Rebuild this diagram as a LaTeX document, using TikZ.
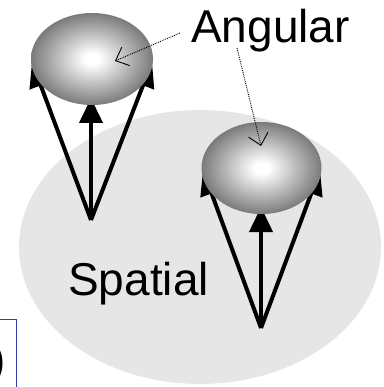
\documentclass[tikz,border=0pt]{standalone}
\usepackage{fontspec}
\setmainfont{Liberation Sans}
\usetikzlibrary{arrows.meta}
\definecolor{bgell}{HTML}{E6E6E6}
\definecolor{boxblue}{HTML}{3A3AAA}
\pgfdeclareradialshading{ballshade}{\pgfpoint{0bp}{0bp}}{color(0bp)=(white); color(3bp)=(white); color(25bp)=(black!52); color(50bp)=(black!52)}
\tikzset{
  vec/.style={line width=4pt,-{Triangle[length=25pt,width=23pt]}},
  ball/.style={shading=ballshade},
  hint/.style={densely dotted,line width=0.9pt,-{Straight Barb[length=11pt,width=20pt,line width=0.9pt]}},
  lab/.style={inner sep=0pt,font=\fontsize{46}{50}\selectfont}
}
\begin{document}
\begin{tikzpicture}[x=1pt,y=-1pt]
\useasboundingbox (0,0) rectangle (383,387);
\clip (0,0) rectangle (383,387);
% spatial region
\fill[bgell] (200,247) ellipse [x radius=181, y radius=137];
% left group
\coordinate (a1) at (91,220);
\coordinate (l1) at (32,62);
\coordinate (r1) at (152,62);
\coordinate (m1) at (91,98);
\draw[vec] (a1) -- (l1);
\draw[vec] (a1) -- (r1);
\draw[vec] (a1) -- (m1);
\path[ball] (92,59) ellipse [x radius=61, y radius=46];
% right group
\coordinate (a2) at (261,328);
\coordinate (l2) at (203,170);
\coordinate (r2) at (320,170);
\coordinate (m2) at (261,207);
\draw[vec] (a2) -- (l2);
\draw[vec] (a2) -- (r2);
\draw[vec] (a2) -- (m2);
\path[ball] (261.5,168) ellipse [x radius=60, y radius=46];
% labels
\node[lab,anchor=base west] (ang) at (191,43) {Angular};
\node[lab,anchor=base west] (spa) at (68,295) {Spatial};
\coordinate (h1s) at (180,33);
\coordinate (h1e) at (115,61);
\coordinate (h2s) at (237,48);
\coordinate (h2e) at (261,146);
\draw[hint] (h1s) -- (h1e);
\draw[hint] (h2s) -- (h2e);
% cut-off label box
\draw[boxblue,line width=1pt] (-40,400) -- (-40,319) -- (16,319) -- (16,400);
\node[lab,anchor=base east] (par) at (6,375) {)};
\end{tikzpicture}
\end{document}
